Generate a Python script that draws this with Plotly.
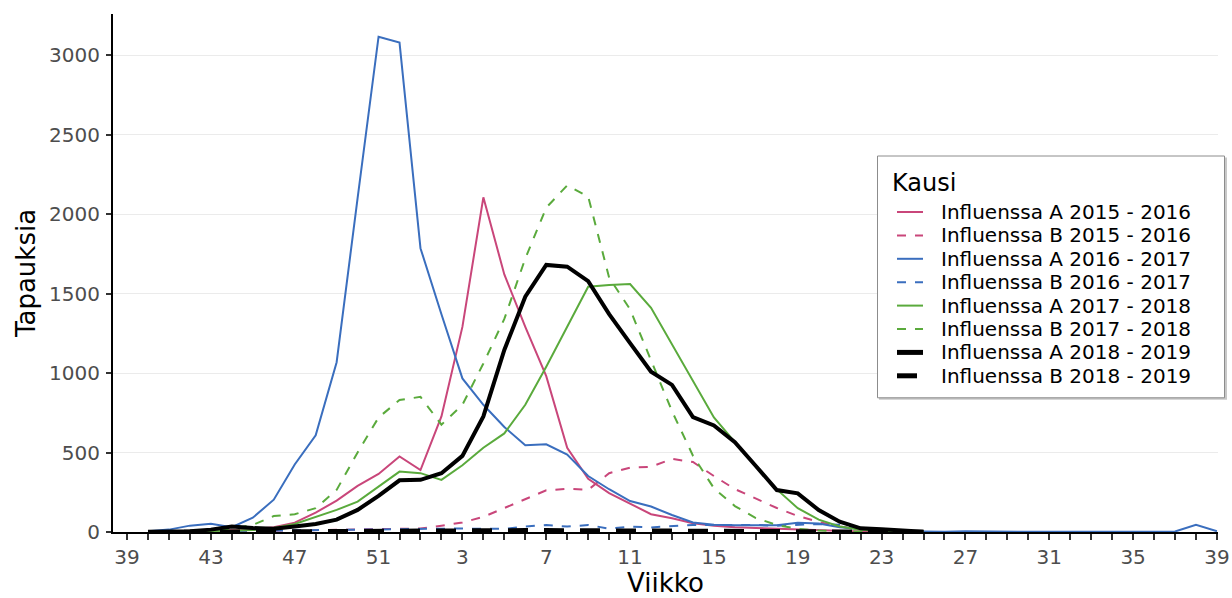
import plotly.graph_objects as go

weeks = [39, 40, 41, 42, 43, 44, 45, 46, 47, 48, 49, 50, 51, 52,
         1, 2, 3, 4, 5, 6, 7, 8, 9, 10, 11, 12, 13, 14, 15, 16, 17, 18, 19, 20,
         21, 22, 23, 24, 25, 26, 27, 28, 29, 30, 31, 32, 33, 34, 35, 36, 37, 38, 39]

N = None
a_2015_2016 = [N, 2, 3, 5, 8, 12, 18, 30, 59, 122, 197,
               290, 365, 475, 390, 727, 1290, 2105, 1620, 1290, 980,
               530, 335, 245, 180, 112, 86, 55, 40, 30, 25,
               20, 15, 10, 5, 3, 2, 1, 0,
               N, N, N, N, N, N, N, N, N, N, N, N, N, N]
b_2015_2016 = [N, 2, 2, 3, 4, 5, 6, 8, 10, 12, 14,
               16, 18, 20, 22, 40, 60, 95, 150, 210, 262,
               272, 265, 370, 405, 410, 460, 440, 352, 270, 208,
               151, 101, 63, 35, 15, 5, 2, 0,
               N, N, N, N, N, N, N, N, N, N, N, N, N, N]
a_2016_2017 = [N, 5, 15, 40, 52, 30, 90, 203, 425, 608, 1068,
               2100, 3115, 3078, 1785, 1370, 966, 800, 660, 545, 552,
               487, 352, 269, 195, 160, 107, 60, 45, 42, 40,
               42, 58, 54, 30, 18, 8, 4, 2,
               1, 4, 2, 1, 1, 2, 4, 2, 1, 1, 2, 3, 45, 5]
b_2016_2017 = [N, 1, 2, 3, 4, 5, 6, 8, 10, 12, 14,
               15, 16, 18, 20, 20, 22, 20, 20, 35, 44,
               34, 44, 21, 34, 29, 38, 44, 44, 45, 44,
               40, 45, 50, 45, 30, 15, 5, 0,
               N, N, N, N, N, N, N, N, N, N, N, N, N, N]
a_2017_2018 = [N, 2, 3, 4, 5, 8, 12, 25, 50, 97, 139,
               191, 286, 380, 370, 328, 420, 530, 620, 800, 1040,
               1290, 1543, 1553, 1560, 1410, 1180, 953, 720, 565, 415,
               268, 150, 78, 35, 14, 5, 2, 0,
               N, N, N, N, N, N, N, N, N, N, N, N, N, N]
b_2017_2018 = [N, 1, 2, 3, 5, 20, 45, 100, 112, 150, 265,
               500, 720, 830, 850, 675, 800, 1060, 1340, 1720, 2040,
               2180, 2110, 1600, 1400, 1080, 760, 480, 275, 163, 88,
               44, 20, 10, 5, 2, 1, 0, 0,
               N, N, N, N, N, N, N, N, N, N, N, N, N, N]
a_2018_2019 = [N, 2, 3, 5, 15, 35, 25, 20, 35, 50, 78,
               139, 227, 325, 328, 370, 479, 727, 1145, 1480, 1680,
               1669, 1578, 1370, 1188, 1008, 925, 722, 670, 565, 415,
               264, 243, 138, 65, 23, 17, 8, 2,
               N, N, N, N, N, N, N, N, N, N, N, N, N, N]
b_2018_2019 = [N, 0, 1, 1, 2, 3, 3, 4, 5, 5, 6,
               7, 8, 9, 10, 10, 10, 12, 12, 12, 12,
               12, 12, 12, 12, 10, 10, 10, 10, 8, 8,
               6, 5, 5, 4, 3, 2, 1, 1,
               N, N, N, N, N, N, N, N, N, N, N, N, N, N]

series_names = ["Influenssa A 2015 - 2016", "Influenssa B 2015 - 2016",
                "Influenssa A 2016 - 2017", "Influenssa B 2016 - 2017",
                "Influenssa A 2017 - 2018", "Influenssa B 2017 - 2018",
                "Influenssa A 2018 - 2019", "Influenssa B 2018 - 2019"]
series_values = [a_2015_2016, b_2015_2016, a_2016_2017, b_2016_2017,
                 a_2017_2018, b_2017_2018, a_2018_2019, b_2018_2019]
y_ticks = [0, 500, 1000, 1500, 2000, 2500, 3000]

PINK = "#C9467A"
BLUE = "#3A6EBE"
GREEN = "#5AAA3C"
THIN_DASH = "9px,9px"
styles = [
    dict(color=PINK, width=2, dash="solid"),
    dict(color=PINK, width=2, dash=THIN_DASH),
    dict(color=BLUE, width=2, dash="solid"),
    dict(color=BLUE, width=2, dash=THIN_DASH),
    dict(color=GREEN, width=2, dash="solid"),
    dict(color=GREEN, width=2, dash=THIN_DASH),
    dict(color="#000000", width=4, dash="solid"),
    dict(color="#000000", width=4, dash="20px,16px"),
]

xpos = list(range(len(weeks)))
ticktext = [str(w) if i % 4 == 0 else "" for i, w in enumerate(weeks)]

fig = go.Figure()
for name, vals, st in zip(series_names, series_values, styles):
    fig.add_trace(go.Scatter(x=xpos, y=vals, mode="lines", name=name,
                             line=st, showlegend=False))

W, H = 1232, 598
ML, MR, MT, MB = 113, 14, 14, 66
PW, PH = W - ML - MR, H - MT - MB


def px(x):
    return (x - ML) / PW


def py(y):
    return (H - MB - y) / PH


FONT = "DejaVu Sans"

# legend drawn as shapes + text
box_top = 156
title_y = box_top + 27
entry_y0 = box_top + 56
entry_step = 23.4
box_bottom = entry_y0 + 7 * entry_step + 22
shapes = [
    dict(type="rect", xref="paper", yref="paper", layer="above",
         x0=px(879), x1=px(1227), y0=py(box_bottom + 2), y1=py(box_top + 1.5),
         fillcolor="#C8C8C8", line=dict(width=0)),
    dict(type="rect", xref="paper", yref="paper", layer="above",
         x0=px(877.5), x1=px(1224.5), y0=py(box_bottom), y1=py(box_top),
         fillcolor="white", line=dict(color="#8C8C8C", width=1)),
]
annotations = [
    dict(text="Kausi", xref="paper", yref="paper", x=px(891), y=py(title_y),
         xanchor="left", yanchor="middle", showarrow=False, borderpad=0,
         font=dict(size=24, family=FONT, color="#000000")),
]
for i, (name, st) in enumerate(zip(series_names, styles)):
    yy = entry_y0 + i * entry_step
    shapes.append(dict(type="line", xref="paper", yref="paper", layer="above",
                       x0=px(897), x1=px(923), y0=py(yy), y1=py(yy),
                       line=dict(color=st["color"], width=st["width"] + (1 if st["width"] > 2 else 0),
                                 dash=st["dash"])))
    annotations.append(dict(text=name, xref="paper", yref="paper", x=px(940), y=py(yy),
                            xanchor="left", yanchor="middle", showarrow=False, borderpad=0,
                            font=dict(size=20, family=FONT, color="#000000")))

fig.update_layout(
    width=W, height=H,
    margin=dict(l=ML, r=MR, t=MT, b=MB),
    paper_bgcolor="white", plot_bgcolor="white",
    font=dict(family=FONT, color="#000000"),
    showlegend=False,
    shapes=shapes, annotations=annotations,
    xaxis=dict(
        range=[-0.67, 52.05], automargin=False,
        tickmode="array", tickvals=xpos, ticktext=ticktext,
        ticks="outside", ticklen=6, tickwidth=1.5, tickcolor="#333333",
        tickfont=dict(size=20, family=FONT, color="#4D4D4D"),
        showgrid=False, zeroline=False,
        showline=True, linecolor="#000000", linewidth=2,
        title=dict(text="Viikko", font=dict(size=26, family=FONT, color="#000"), standoff=4),
    ),
    yaxis=dict(
        range=[0, 3258], automargin=False,
        tickmode="array", tickvals=y_ticks,
        ticks="outside", ticklen=5, tickwidth=1.5, tickcolor="#333333",
        tickfont=dict(size=20, family=FONT, color="#4D4D4D"),
        ticklabelstandoff=2,
        showgrid=True, gridcolor="#EBEBEB", gridwidth=1, zeroline=False,
        showline=True, linecolor="#000000", linewidth=2,
        title=dict(text="Tapauksia", font=dict(size=26, family=FONT, color="#000"), standoff=6),
    ),
)

fig.write_html("out.html")
